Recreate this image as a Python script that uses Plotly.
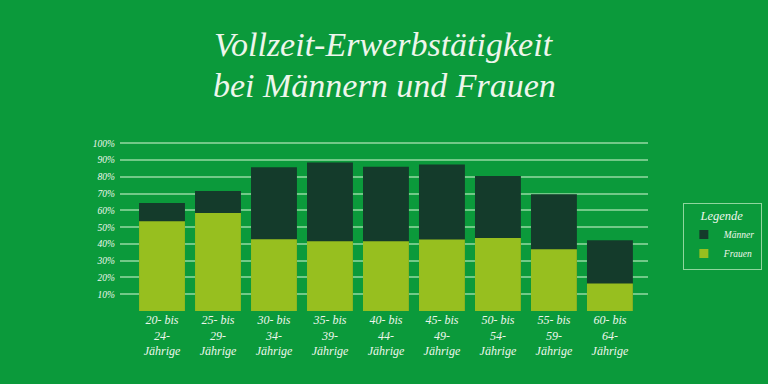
import plotly.graph_objects as go

categories = ["20- bis<br>24-<br>Jährige", "25- bis<br>29-<br>Jährige", "30- bis<br>34-<br>Jährige",
              "35- bis<br>39-<br>Jährige", "40- bis<br>44-<br>Jährige", "45- bis<br>49-<br>Jährige",
              "50- bis<br>54-<br>Jährige", "55- bis<br>59-<br>Jährige", "60- bis<br>64-<br>Jährige"]
maenner = [64.4, 71.6, 85.8, 88.6, 86.0, 87.4, 80.6, 69.7, 42.2]
frauen = [53.6, 58.4, 42.8, 41.6, 41.6, 42.6, 43.6, 36.8, 16.4]
y_ticks = [10, 20, 30, 40, 50, 60, 70, 80, 90, 100]
y_ticklabels = [f"{v}%" for v in y_ticks]
title_lines = ["Vollzeit-Erwerbstätigkeit", "bei Männern und Frauen"]
series_names = ["Männer", "Frauen"]

BG = "#0b9a3b"
DARK = "#143b2b"
LIGHT = "#97bf1f"
TXT = "#eef6ec"
SERIF = "Liberation Serif, DejaVu Serif, serif"

xs = list(range(len(categories)))
fig = go.Figure()
for name, vals, col in zip(series_names, [maenner, frauen], [DARK, LIGHT]):
    fig.add_trace(go.Bar(x=xs, y=vals, name=name, showlegend=False,
                         marker=dict(color=col, line=dict(width=0))))
# legend entries with square swatches
for name, col in zip(series_names, [DARK, LIGHT]):
    fig.add_trace(go.Scatter(x=[None], y=[None], mode="markers", name=name,
                             marker=dict(symbol="square", size=9, color=col)))

for txt, yy in zip(title_lines, [1.516, 1.283]):
    fig.add_annotation(text=txt, x=0.5, xref="paper", y=yy, yref="paper",
                       xanchor="center", yanchor="middle", showarrow=False,
                       font=dict(family=SERIF, size=34, color=TXT, style="italic"))

fig.update_layout(
    width=768, height=384,
    paper_bgcolor=BG, plot_bgcolor=BG,
    barmode="overlay", bargap=0.18,
    margin=dict(l=120, r=120, t=135, b=73, autoexpand=False),
    font=dict(family=SERIF, color=TXT, style="italic"),
    xaxis=dict(tickmode="array", tickvals=xs, ticktext=categories,
               range=[-0.75, 8.68], showgrid=False, zeroline=False, showline=False,
               tickfont=dict(size=12, color=TXT), ticks=""),
    yaxis=dict(tickmode="array", tickvals=y_ticks, ticktext=y_ticklabels,
               range=[0, 105], showgrid=True, gridcolor="rgba(200,240,200,0.55)", gridwidth=1.5,
               zeroline=False, showline=False, tickfont=dict(size=9.5, color=TXT), ticks="",
               ticklabelstandoff=4),
    legend=dict(title=dict(text="Legende", side="top center", font=dict(size=12.5, color=TXT)),
                x=1.066, xanchor="left", y=0.615, yanchor="top",
                bgcolor=BG, bordercolor="rgba(200,240,200,0.7)", borderwidth=1,
                font=dict(size=9.5, color=TXT), itemwidth=30,
                tracegroupgap=0),
    showlegend=True,
)

fig.write_html("out.html", post_script="document.body.style.margin='0';",
               config={"displayModeBar": False})
